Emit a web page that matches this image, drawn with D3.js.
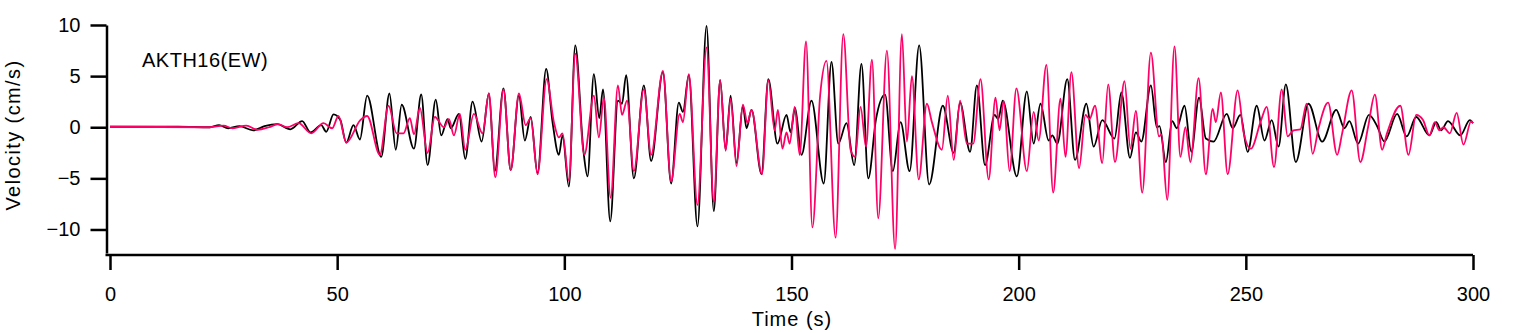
<!DOCTYPE html>
<html>
<head>
<meta charset="utf-8">
<script src="https://cdn.jsdelivr.net/npm/d3@7"></script>
<style>
  body { margin: 0; background: #fff; }
  svg { display: block; font-family: "Liberation Sans", Arial, sans-serif; }
</style>
</head>
<body>
<svg id="chart" width="1521" height="333"></svg>
<script>
// station / component
var stationLabel = "AKTH16(EW)";

// black trace: [time (s), velocity (cm/s)]
var obsTrace = [
  [0,0.05],[15,0.05],[22,0],[24,0.2],[26,-0.1],[28.5,0.1],[31.5,-0.3],[34,0.1],[36.8,0.3],[39.7,-0.2],
  [42.3,0.6],[44.1,-0.5],[46.5,0.2],[47.6,-0.45],[49.2,1.26],[50.7,0.7],[52,-1.5],[53.6,0.2],[55,-1.2],
  [56.6,3.1],[59.7,-2.9],[61.5,3.3],[62.9,-2.2],[64.2,2.2],[66.9,-2.1],[68.5,3.2],[69.9,-3.7],[71.7,2.7],
  [72.9,-0.8],[74.3,0.8],[75,-0.1],[76.8,1.3],[78.2,-3.1],[79.8,2.5],[81.8,-1.4],[83.4,3.3],[84.7,-4.3],
  [86.6,3.8],[88.2,-4.2],[90,3.1],[91.3,-1.3],[92.6,1.0],[94.1,-4.5],[96,5.7],[97.4,0.5],[98.8,-2.7],
  [99.6,-0.8],[101,-5.8],[102.4,8.0],[104.2,-2.3],[105.1,-4.8],[106.5,5.2],[107.7,0.9],[108.5,3.7],
  [110.1,-9.2],[111.8,2.6],[112.7,2.3],[113.6,5.1],[115.3,-5.0],[117.5,4.1],[119.1,-3.3],[121.7,5.4],
  [123.5,-5.5],[125.2,2.4],[126.1,1.5],[127.4,5.1],[129.3,-9.7],[131.3,9.9],[132.9,-8.2],[134.3,4.6],
  [135.5,-2.2],[136.6,3.1],[137.9,-3.5],[139.3,2.1],[140.1,-0.1],[141.2,1.7],[143.4,-4.6],[144.9,4.7],
  [146.9,-1.6],[148.9,1.2],[149.8,-0.5],[150.8,1.9],[152.2,-2.7],[154.4,2.6],[157.1,-5.5],[158.8,6.4],
  [160.3,-1.6],[162.1,0.4],[163.8,-3.7],[165.4,6.2],[166.9,-5.0],[168.6,0.8],[170.6,3.2],[172.3,-4.3],
  [174,0.5],[176,-4.3],[178.1,8.0],[180.3,-5.6],[183.3,2.1],[185.7,-2.5],[187.1,2.4],[189.3,-2.4],
  [190.8,4.1],[192.6,-3.7],[194.7,1.2],[195.5,0.8],[196.5,2.6],[199.6,-4.8],[201.8,3.5],[203.3,-1.6],
  [204.8,2.3],[206.6,-1.3],[207.4,-0.8],[208.5,-1.6],[210.7,4.7],[212.4,-3.2],[214.9,2.3],[216.5,-1.9],
  [218.4,0.7],[221.1,-1.1],[222.6,3.4],[224.5,-3.0],[225.8,-0.5],[227,-1.4],[229.1,4.1],[230.4,0],
  [231,0.1],[232.4,-3.4],[233.8,0.6],[234.8,-0.1],[236.5,2.1],[238,-2.4],[239.7,2.9],[241.2,-1.1],
  [242.9,-1.4],[245.8,1.3],[247.1,-0.1],[248.8,1.2],[250.4,-2.4],[252.4,2.1],[254.1,-1.3],[255.7,0.7],
  [257.2,-1.9],[258.8,4.2],[261,-3.4],[263.8,2.3],[266.8,-1.4],[269.9,1.7],[271.7,-0.1],[272.8,0.6],
  [274.7,-1.6],[277.1,1.2],[278.9,0.1],[280.5,-1.4],[283.3,1.3],[285.4,-0.9],[287.5,1.0],[290.4,-0.8],
  [291.9,0.5],[293,-0.3],[294.5,0.6],[297.2,-0.8],[299.3,0.7],[300,0.4]
];

// pink trace
var simTrace = [
  [0,0.05],[22,0],[25,0.15],[27,-0.1],[30,0.15],[32.5,-0.25],[35,0],[37,0.3],[39,0],[41.5,0.4],
  [44.3,-0.6],[47,0.4],[48.9,-0.1],[50.3,1.1],[52,-1.5],[55.1,0.7],[56.6,1.1],[59.4,-2.7],[61.3,2.1],
  [63.1,-0.6],[64.6,-0.6],[66,0.9],[66.9,-0.7],[68.2,1.9],[69.9,-2.5],[71.5,1.0],[73.5,0],[74.6,0.8],
  [75.7,-0.8],[77,1.3],[78.2,-2.2],[80.1,1.3],[82,-0.6],[83.4,3.3],[84.8,-4.9],[86.6,3.7],[88.2,-4.2],
  [90,3.3],[91.5,0.2],[92.6,0.9],[94.1,-4.6],[96.1,4.7],[97.7,0.5],[98.8,-1.0],[99.6,-0.6],[101,-5.2],
  [102.4,7.2],[104.4,-2.7],[106.5,3.1],[107.6,-1.0],[108.7,2.9],[110.2,-6.9],[111.8,4.1],[112.7,1.2],
  [113.8,2.6],[115.3,-4.3],[117.5,3.7],[119.1,-2.7],[121.7,5.5],[123.5,-5.3],[125.4,1.3],[126.1,0.5],
  [127.4,5.2],[129.3,-7.6],[131.3,7.8],[132.9,-7.3],[134.3,4.6],[135.5,-2.3],[136.6,2.8],[137.9,-3.8],
  [139.3,2.2],[140.3,0.4],[141.2,1.7],[143.5,-4.6],[144.9,4.6],[146.3,-0.3],[147,1.7],[148,-2.1],
  [148.9,-0.5],[149.6,-1.6],[150.7,2.0],[151.8,-2.7],[153.2,8.4],[154.6,-9.8],[156.3,3.1],[157.7,6.5],
  [159.7,-10.8],[161.4,9.1],[163,-2.2],[164,-2.9],[165.2,2.0],[166.4,-1.9],[167.7,6.6],[169.1,-8.9],
  [171,7.5],[172.8,-11.9],[174.3,9.1],[175.4,-1.4],[176.5,5.0],[178,-5.1],[179.8,2.3],[180.9,0.5],
  [183.1,-2.2],[184.4,3.1],[185.7,-3.2],[187.1,2.6],[188.6,-1.6],[190,-1.6],[191.6,4.7],[193.4,-5.1],
  [194.9,2.9],[195.8,-0.3],[196.7,2.6],[198,-4.3],[199.5,3.8],[201.8,-4.3],[203.3,1.5],[204.4,-1.3],
  [206.1,6.1],[207.6,-6.4],[209.2,2.8],[210.3,-2.9],[211.6,5.4],[213.3,-4.0],[214.7,1.2],[215.6,0.8],
  [216.8,2.1],[218.4,-3.5],[219.7,4.2],[221.2,-3.4],[223.3,4.5],[224.6,-2.1],[225.8,1.6],[227.2,-6.4],
  [229.1,7.3],[230.9,-0.9],[231.4,-0.7],[232.7,-7.1],[234.3,7.9],[235.6,-2.9],[236.7,0],[237.8,-3.4],
  [239.6,4.8],[241.2,-4.6],[242.7,1.8],[243.4,0.5],[244.5,3.4],[246,-4.6],[248.2,3.6],[249.5,-0.5],
  [251.1,-2.1],[253.3,0.6],[254.6,2.0],[256.2,-3.9],[257.9,3.7],[259.2,-0.9],[260.5,-0.3],[262,-0.2],
  [263.4,2.3],[264.7,-2.6],[266,-0.1],[268.1,2.4],[270.1,-2.7],[271.2,-0.6],[273.3,3.6],[275.2,-3.4],
  [276.9,0],[278.4,3.2],[280,-2.2],[281,-0.7],[284,2.1],[285.8,-2.7],[287.5,1.2],[289,0.7],[290.4,-0.8],
  [291.6,0.5],[292.6,-0.3],[293.5,0],[294.9,-0.6],[296.4,1.4],[297.9,-1.7],[299.6,0.6],[300,0.4]
];

var xTicks = [0, 50, 100, 150, 200, 250, 300];
var yTicks = [-10, -5, 0, 5, 10];

var svg = d3.select("#chart");

var x = d3.scaleLinear().domain([0, 300]).range([110, 1473]);
var y = d3.scaleLinear().domain([-12.3, 10]).range([253, 25]);

var axisX = 106.5, axisY = 255;

// traces
var line = d3.line()
    .x(function(d) { return x(d[0]); })
    .y(function(d) { return y(d[1]); })
    .curve(d3.curveMonotoneX);

svg.append("path")
    .datum(obsTrace)
    .attr("fill", "none")
    .attr("stroke", "#000")
    .attr("stroke-width", 1.8)
    .attr("d", line);

svg.append("path")
    .datum(simTrace)
    .attr("fill", "none")
    .attr("stroke", "#ff0066")
    .attr("stroke-width", 1.8)
    .attr("d", line);

// y axis
var gy = svg.append("g")
    .attr("transform", "translate(" + axisX + ",0)")
    .call(d3.axisLeft(y).tickValues(yTicks).tickSize(16).tickSizeOuter(0).tickPadding(10));

// x axis
var gx = svg.append("g")
    .attr("transform", "translate(0," + axisY + ")")
    .call(d3.axisBottom(x).tickValues(xTicks).tickSize(15).tickSizeOuter(0).tickPadding(17));
gx.select(".domain").attr("d", "M" + (axisX - 1) + ",0H" + x(300));

svg.selectAll(".domain, .tick line")
    .attr("stroke", "#000")
    .attr("stroke-width", 2.5);
svg.selectAll(".tick text")
    .attr("fill", "#000")
    .style("font-size", "20px")
    .style("font-family", "'Liberation Sans', Arial, sans-serif");

// labels
svg.append("text")
    .attr("x", 142)
    .attr("y", 67)
    .style("font-size", "20px")
    .style("letter-spacing", "0.5px")
    .text(stationLabel);

svg.append("text")
    .attr("transform", "translate(20,135) rotate(-90)")
    .attr("text-anchor", "middle")
    .style("font-size", "20px")
    .style("letter-spacing", "1.4px")
    .text("Velocity (cm/s)");

svg.append("text")
    .attr("x", 792)
    .attr("y", 326)
    .attr("text-anchor", "middle")
    .style("font-size", "20px")
    .style("letter-spacing", "1px")
    .text("Time (s)");
</script>
</body>
</html>
